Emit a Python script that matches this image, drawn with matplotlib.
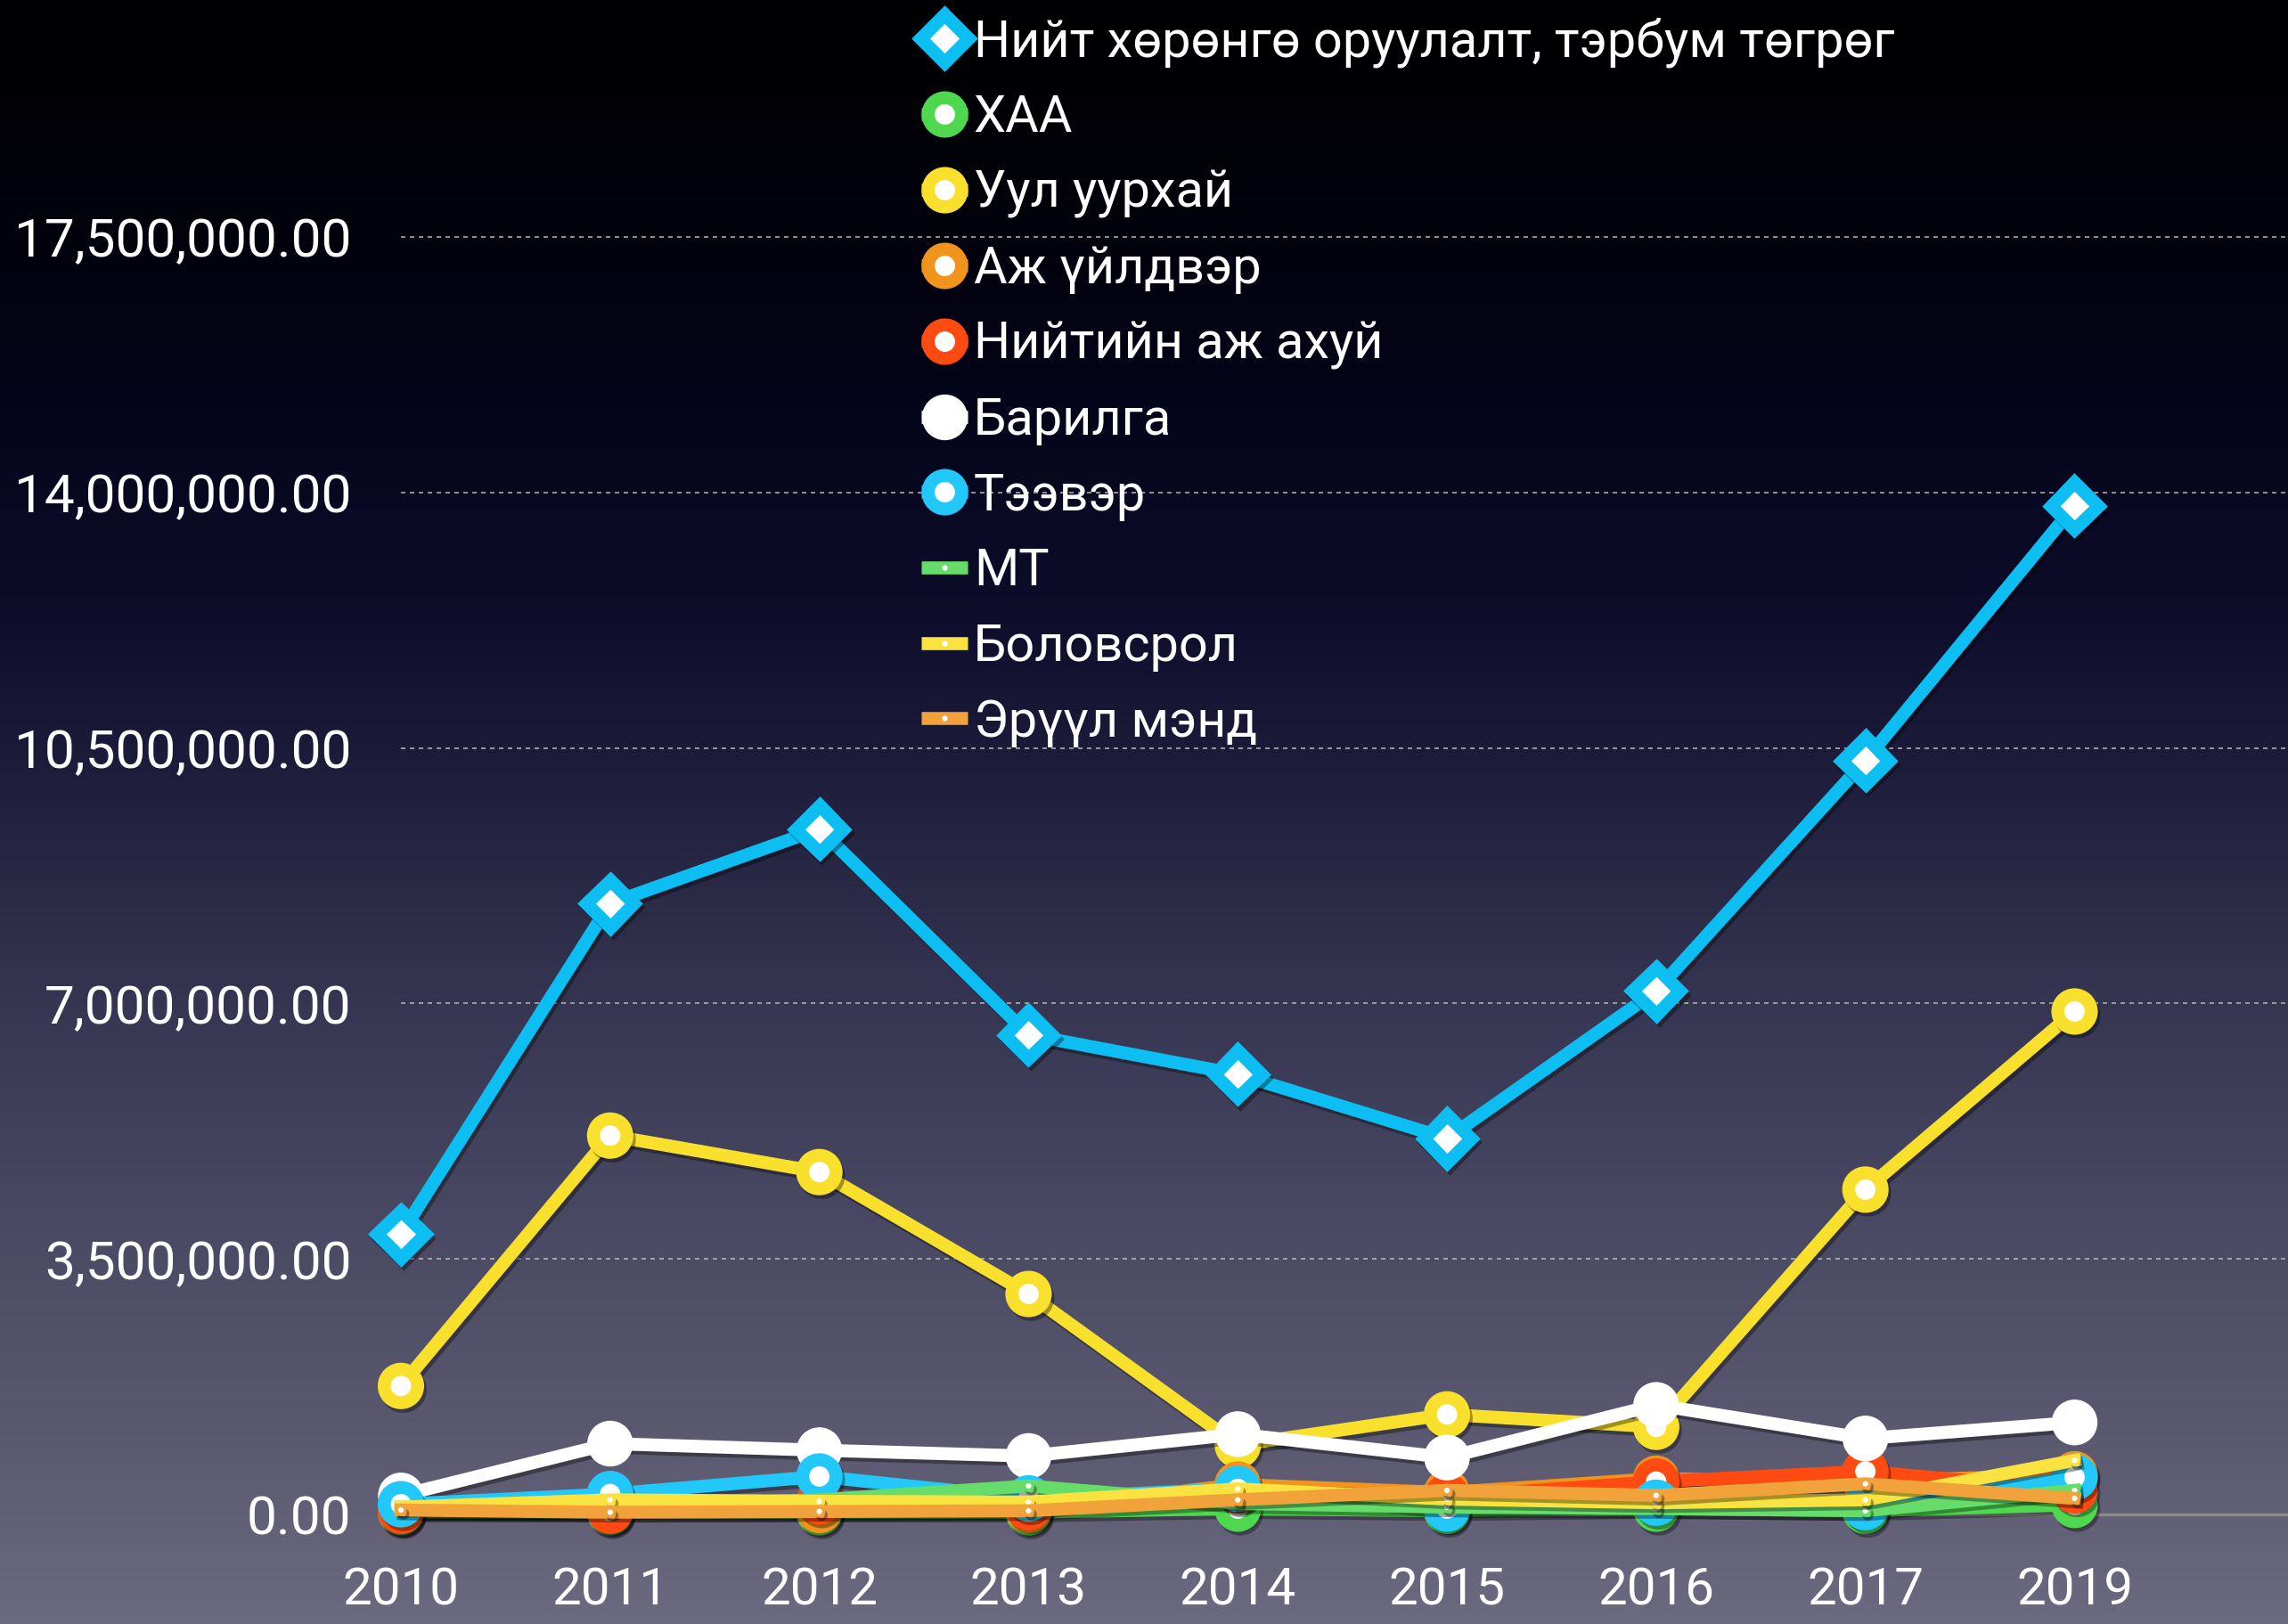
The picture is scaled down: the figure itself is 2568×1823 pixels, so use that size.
import numpy as np
import matplotlib
matplotlib.use("Agg")
import matplotlib.pyplot as plt
import matplotlib.patheffects as pe
from matplotlib.ticker import FuncFormatter

FONT = ['Roboto', 'Noto Sans', 'DejaVu Sans']
plt.rcParams['font.family'] = FONT

years = ['2010', '2011', '2012', '2013', '2014', '2015', '2016', '2017', '2019']

total = [3.84e6, 8.37e6, 9.39e6, 6.57e6, 6.03e6, 5.15e6, 7.17e6, 10.33e6, 13.82e6]
haa = [0.03e6, 0.03e6, 0.03e6, 0.03e6, 0.08e6, 0.05e6, 0.08e6, 0.05e6, 0.13e6]
mining = [1.76e6, 5.19e6, 4.69e6, 3.02e6, 0.95e6, 1.37e6, 1.20e6, 4.45e6, 6.89e6]
manuf = [0.05e6, 0.07e6, 0.06e6, 0.06e6, 0.41e6, 0.30e6, 0.49e6, 0.45e6, 0.55e6]
utilities = [0.05e6, 0.05e6, 0.18e6, 0.10e6, 0.33e6, 0.24e6, 0.45e6, 0.59e6, 0.33e6]
construction = [0.26e6, 0.97e6, 0.88e6, 0.80e6, 1.10e6, 0.78e6, 1.50e6, 1.04e6, 1.26e6]
transport = [0.14e6, 0.28e6, 0.52e6, 0.22e6, 0.35e6, 0.08e6, 0.16e6, 0.10e6, 0.51e6]
mt = [0.10e6, 0.12e6, 0.20e6, 0.39e6, 0.15e6, 0.10e6, 0.08e6, 0.05e6, 0.33e6]
education = [0.10e6, 0.20e6, 0.18e6, 0.17e6, 0.35e6, 0.21e6, 0.16e6, 0.20e6, 0.74e6]
health = [0.06e6, 0.03e6, 0.04e6, 0.05e6, 0.20e6, 0.33e6, 0.26e6, 0.42e6, 0.22e6]

labels = ['Нийт хөрөнгө оруулалт, тэрбум төгрөг', 'ХАА', 'Уул уурхай', 'Аж үйлдвэр',
          'Нийтийн аж ахуй', 'Барилга', 'Тээвэр', 'МТ', 'Боловсрол', 'Эрүүл мэнд']
yticks = [0, 3.5e6, 7e6, 10.5e6, 14e6, 17.5e6]

W, H = 2568, 1823
fig = plt.figure(figsize=(W / 100, H / 100), dpi=100)

# background gradient
bg = fig.add_axes([0, 0, 1, 1], zorder=-10)
stops = np.array([0.0, 0.12, 0.25, 0.38, 0.5, 0.63, 0.76, 0.9, 1.0])
cols = np.array([
    [0x00, 0x00, 0x02],
    [0x02, 0x02, 0x0a],
    [0x04, 0x04, 0x1a],
    [0x0e, 0x0e, 0x2c],
    [0x22, 0x22, 0x40],
    [0x38, 0x38, 0x54],
    [0x4b, 0x4a, 0x64],
    [0x5c, 0x5b, 0x72],
    [0x6c, 0x6a, 0x80],
]) / 255.0
t = np.linspace(0, 1, 600)
grad = np.stack([np.interp(t, stops, cols[:, k]) for k in range(3)], axis=1)
bg.imshow(grad[:, None, :], aspect='auto', extent=[0, 1, 0, 1])
bg.set_axis_off()

ax = fig.add_axes([450 / W, (H - 1700) / H, (W - 450) / W, 1700 / H])
ax.set_facecolor('none')
x = np.arange(len(years))

shadow = [pe.SimpleLineShadow(offset=(2, -3), shadow_color='black', alpha=0.35), pe.Normal()]
lw = 10.5

big = dict(marker='o', markersize=27, markeredgewidth=10.5, markerfacecolor='white')
small = dict(marker='o', markersize=7, markeredgewidth=2.5, markerfacecolor='white')

series = [
    (total, '#0cbef2', dict(marker='D', markersize=27, markeredgewidth=10.5, markerfacecolor='white')),
    (haa, '#4fd84f', big),
    (mining, '#f8e02c', big),
    (manuf, '#f0941e', big),
    (utilities, '#ff4a12', big),
    (construction, '#ffffff', dict(marker='o', markersize=37, markeredgewidth=0, markerfacecolor='white')),
    (transport, '#22c8fa', big),
    (mt, '#66dd6a', small),
    (education, '#fae340', small),
    (health, '#f2a23a', small),
]

handles = []
for i, (vals, col, mk) in enumerate(series):
    ln, = ax.plot(x, vals, color=col, lw=lw, markeredgecolor=col, clip_on=False,
                  zorder=3 + i, path_effects=shadow, solid_joinstyle='round', **mk)
    handles.append(ln)

ax.set_xlim(0, 9.02)
ax.set_ylim(0, 1700 / 81.94 * 1e6)
ax.set_yticks(yticks)
ax.yaxis.set_major_formatter(FuncFormatter(lambda v, p: f'{v:,.2f}'))
ax.set_xticks(x)
ax.set_xticklabels(years)
ax.grid(axis='y', color='#bbbbbb', linestyle=(0, (3, 3)), linewidth=1.2, alpha=0.9)
ax.set_axisbelow(True)
for s in ['top', 'right', 'left']:
    ax.spines[s].set_visible(False)
ax.spines['bottom'].set_color('#8a8a8a')
ax.spines['bottom'].set_linewidth(2.5)
ax.tick_params(axis='both', length=0, colors='white')
ax.tick_params(axis='y', pad=40, labelsize=43.5)
ax.tick_params(axis='x', pad=42, labelsize=42)

leg = fig.legend(handles=handles, labels=labels, loc='upper left',
                 bbox_to_anchor=(1034 / W, 1 - 19 / H), frameon=False,
                 fontsize=41.5, labelcolor='white', handlelength=0.9, handletextpad=0.12,
                 labelspacing=0.515, borderpad=0, borderaxespad=0, numpoints=1)
for h in leg.legend_handles:
    h.set_path_effects([])
    h.set_solid_capstyle('butt')

fig.savefig('out.png', dpi=100)
